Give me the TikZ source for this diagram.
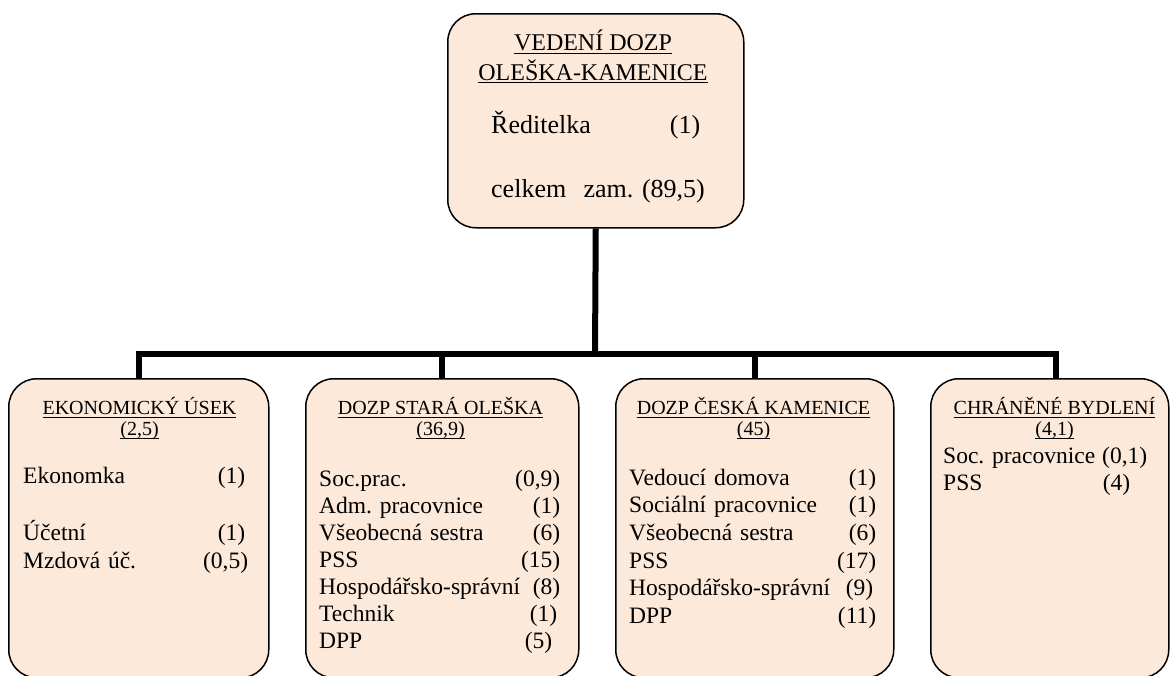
\documentclass[tikz,border=0pt]{standalone}
\usepackage{fontspec}
\setmainfont{Liberation Serif}
\newsavebox{\ulinebox}
\newcommand{\ulin}[1]{\sbox{\ulinebox}{#1}\rlap{\rule[-3pt]{\wd\ulinebox}{1pt}}\usebox{\ulinebox}}
\frenchspacing
\begin{document}
\begin{tikzpicture}[x=1pt, y=-1pt,
    unitbox/.style={draw, line width=1.5pt, rounded corners=28pt, fill={rgb,255:red,252;green,233;blue,218}, inner sep=0pt, anchor=north west},
    unittitle/.style={align=center, inner sep=0pt, anchor=north, font=\fontsize{20}{21}\selectfont},
    unitlist/.style={align=left, inner sep=0pt, anchor=north west, text width=#1},
    linkline/.style={line width=6pt}]
    \useasboundingbox (0,0) rectangle (1170,675);
    \node [unitbox, minimum width=296pt, minimum height=214pt] (vedeni) at (447,13) {};
    \node [unitbox, minimum width=260pt, minimum height=299pt] (eko) at (8,378) {};
    \node [unitbox, minimum width=273pt, minimum height=299pt] (stara) at (305,378) {};
    \node [unitbox, minimum width=278pt, minimum height=299pt] (ceska) at (615,378) {};
    \node [unitbox, minimum width=238pt, minimum height=299pt] (chran) at (930,378) {};
    \coordinate (bus) at (595,354);
    \draw [linkline] (vedeni.south) -- (bus);
    \draw [linkline] (eko.north) |- ([xshift=6pt]chran.north |- bus) -- ([xshift=6pt]chran.north);
    \draw [linkline] (stara.north) -- (stara.north |- bus);
    \draw [linkline] (ceska.north) -- (ceska.north |- bus);
    \node [unittitle, font=\fontsize{24}{26}\selectfont] (vedeni-t) at (593,29.8) {\strut\ulin{VEDENÍ DOZP}\\\ulin{OLEŠKA-KAMENICE}};
    \node [unitlist=212pt, font=\fontsize{26}{32}\selectfont] (vedeni-l) at (491,110.6) {\strut Ředitelka\hfill(1)\kern3pt\\[32pt]\mbox{celkem\ \ zam. (89,5)}};
    \node [unittitle] (eko-t) at (139.5,397.3) {\strut\ulin{EKONOMICKÝ ÚSEK}\\\ulin{(2,5)}};
    \node [unitlist=225pt, font=\fontsize{23.5}{28}\selectfont] (eko-l) at (23,463.4) {\strut Ekonomka\hfill(1)\kern3pt\\[28pt]Účetní\hfill(1)\kern3pt\\Mzdová úč.\hfill(0,5)};
    \node [unittitle] (stara-t) at (440.5,397.3) {\strut\ulin{DOZP STARÁ OLEŠKA}\\\ulin{(36,9)}};
    \node [unitlist=241pt, font=\fontsize{23.5}{26.9}\selectfont] (stara-l) at (319,467.9) {\strut Soc.prac.\hfill(0,9)\\Adm. pracovnice\hfill(1)\\Všeobecná sestra\hfill(6)\\PSS\hfill(15)\\Hospodářsko-správní\hfill(8)\\Technik\hfill(1)\kern3pt\\DPP\hfill(5)\kern8pt};
    \node [unittitle] (ceska-t) at (753.5,397.3) {\strut\ulin{DOZP ČESKÁ KAMENICE}\\\ulin{(45)}};
    \node [unitlist=247pt, font=\fontsize{23.5}{27.6}\selectfont] (ceska-l) at (629,465.7) {\strut Vedoucí domova\hfill(1)\\Sociální pracovnice\hfill(1)\\Všeobecná sestra\hfill(6)\\PSS\hfill(17)\\Hospodářsko-správní\hfill(9)\kern3pt\\DPP\hfill(11)};
    \node [unittitle] (chran-t) at (1054.5,397.3) {\strut\ulin{CHRÁNĚNÉ BYDLENÍ}\\\ulin{(4,1)}};
    \node [unitlist=204pt, font=\fontsize{23.5}{27}\selectfont] (chran-l) at (943,444.1) {\strut Soc. pracovnice\hfill(0,1)\\PSS\hfill(4)\kern17pt};
\end{tikzpicture}
\end{document}
